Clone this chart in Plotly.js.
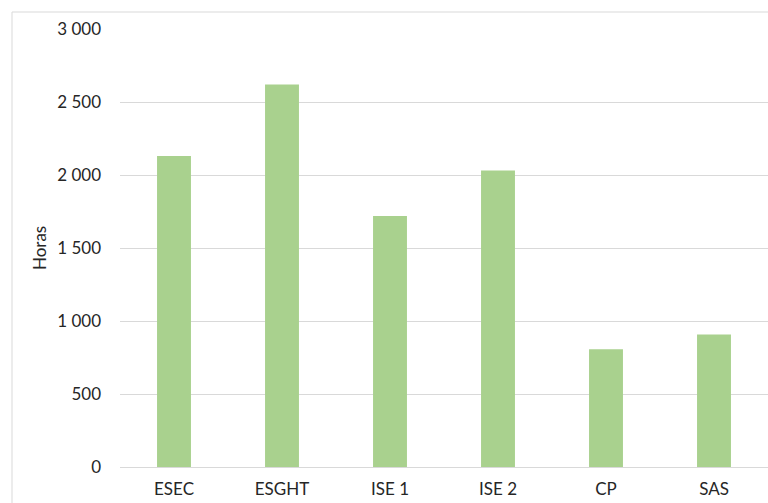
<!DOCTYPE html>
<html><head><meta charset="utf-8">
<script src="https://cdn.plot.ly/plotly-3.0.1.min.js"></script>
<style>html,body{margin:0;padding:0;background:#fff}#c{width:768px;height:503px}</style>
</head><body><div id="c"></div>
<script>
const categories = ["ESEC", "ESGHT", "ISE 1", "ISE 2", "CP", "SAS"];
const horas = [2130, 2620, 1720, 2030, 806, 907];
const yTicks = [0, 500, 1000, 1500, 2000, 2500, 3000];

const font = {family: "Lato, 'Open Sans', sans-serif", size: 17, color: "#262626"};
Plotly.newPlot("c", [{
  type: "bar", x: categories, y: horas,
  marker: {color: "#a9d18e"}, hoverinfo: "x+y"
}], {
  width: 768, height: 503,
  margin: {l: 120, r: 0, t: 29, b: 36},
  paper_bgcolor: "#fff", plot_bgcolor: "#fff",
  separators: ", ",
  bargap: 0.686,
  font: font,
  showlegend: false,
  xaxis: {type: "category", showgrid: false, showline: false, ticks: "", tickfont: font, ticklabelstandoff: 10, fixedrange: true},
  yaxis: {range: [0, 3000], tickvals: yTicks, tickformat: ",d", separatethousands: true,
          showgrid: true, gridcolor: "#d9d9d9", gridwidth: 1, zeroline: true, zerolinecolor: "#d9d9d9", zerolinewidth: 1,
          showline: false, ticks: "", tickfont: font, ticklabelstandoff: 18, fixedrange: true},
  annotations: [{text: "Horas", xref: "paper", yref: "paper", x: (39 - 120) / 648, y: (467 - 248) / 438,
                 xanchor: "center", yanchor: "middle", textangle: -90, showarrow: false, font: font}],
  shapes: [{type: "rect", xref: "paper", yref: "paper", x0: (12 - 120) / 648, x1: 1.2, y0: -0.3, y1: (467 - 12) / 438,
            line: {color: "#d9d9d9", width: 1}, fillcolor: "rgba(0,0,0,0)", layer: "below"}]
}, {displayModeBar: false, staticPlot: true});
</script></body></html>
